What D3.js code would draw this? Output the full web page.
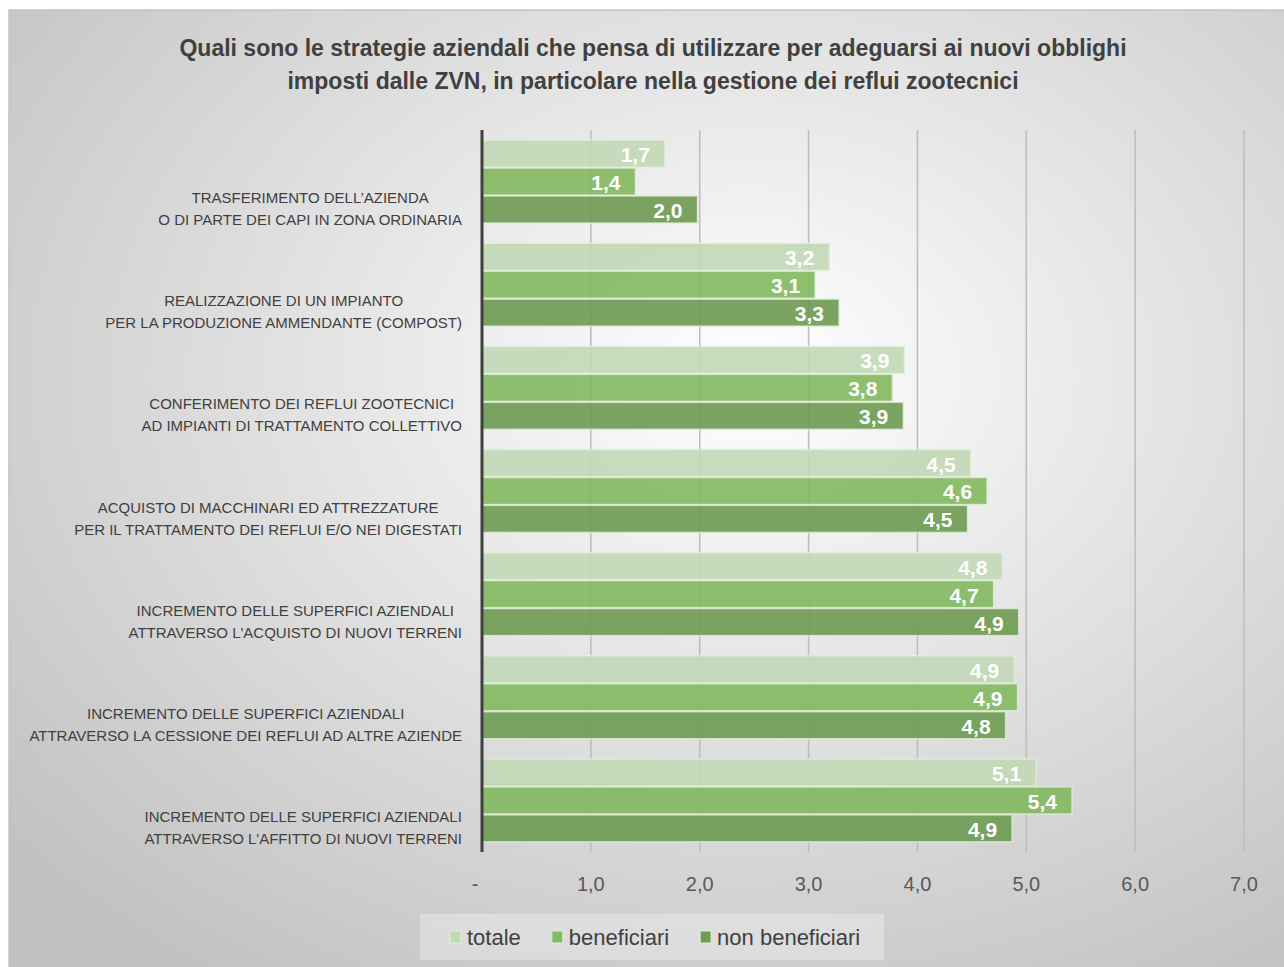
<!DOCTYPE html>
<html lang="it">
<head>
    <meta charset="UTF-8">
    <title>Strategie aziendali ZVN</title>
    <script src="https://d3js.org/d3.v7.min.js"></script>
    <style>
        body { margin: 0; background: #fff; }
        text { font-family: "Liberation Sans Narrow", "Arial Narrow", "Liberation Sans", sans-serif; }
    </style>
</head>
<body>
    <svg id="chart" width="1284" height="967"></svg>

    <script>
        // categories, top to bottom (each label on two lines)
        const categories = [
            ["TRASFERIMENTO DELL\u2019AZIENDA", "O DI PARTE DEI CAPI IN ZONA ORDINARIA"],
            ["REALIZZAZIONE DI UN IMPIANTO", "PER LA PRODUZIONE AMMENDANTE (COMPOST)"],
            ["CONFERIMENTO DEI REFLUI ZOOTECNICI", "AD IMPIANTI DI TRATTAMENTO COLLETTIVO"],
            ["ACQUISTO DI MACCHINARI ED ATTREZZATURE", "PER IL TRATTAMENTO DEI REFLUI E/O NEI DIGESTATI"],
            ["INCREMENTO DELLE SUPERFICI AZIENDALI", "ATTRAVERSO L'ACQUISTO DI NUOVI TERRENI"],
            ["INCREMENTO DELLE SUPERFICI AZIENDALI", "ATTRAVERSO LA CESSIONE DEI REFLUI AD ALTRE AZIENDE"],
            ["INCREMENTO DELLE SUPERFICI AZIENDALI", "ATTRAVERSO L'AFFITTO DI NUOVI TERRENI"]
        ];

        const seriesNames = ["totale", "beneficiari", "non beneficiari"];
        const totale = [1.68, 3.19, 3.88, 4.49, 4.78, 4.89, 5.09];
        const beneficiari = [1.41, 3.06, 3.77, 4.64, 4.70, 4.92, 5.42];
        const nonBeneficiari = [1.98, 3.28, 3.87, 4.46, 4.93, 4.81, 4.87];
        const xTicks = [0, 1, 2, 3, 4, 5, 6, 7];

        const colors = ["#c2d9b7", "#84ba63", "#709c55"];
        const seriesValues = [totale, beneficiari, nonBeneficiari];

        const svg = d3.select("#chart");

        // background with radial gradient
        const defs = svg.append("defs");
        const grad = defs.append("radialGradient")
            .attr("id", "bg")
            .attr("cx", "58%").attr("cy", "38%").attr("r", "75%");
        grad.append("stop").attr("offset", "0%").attr("stop-color", "#ffffff");
        grad.append("stop").attr("offset", "100%").attr("stop-color", "#c2c2c2");

        svg.append("rect")
            .attr("x", 9).attr("y", 10)
            .attr("width", 1276).attr("height", 958)
            .attr("fill", "url(#bg)")
            .attr("stroke", "#c4c4c4")
            .attr("stroke-width", 1.5);

        // title
        const title = svg.append("text")
            .attr("text-anchor", "middle")
            .attr("fill", "#404040")
            .attr("font-weight", "bold")
            .attr("font-size", "23px");
        title.append("tspan").attr("x", 653).attr("y", 56)
            .text("Quali sono le strategie aziendali che pensa di utilizzare per adeguarsi ai nuovi obblighi");
        title.append("tspan").attr("x", 653).attr("y", 89)
            .text("imposti dalle ZVN, in particolare nella gestione dei reflui zootecnici");

        // scales
        const x = d3.scaleLinear().domain([0, 7]).range([482, 1244]);
        const y = d3.scaleBand()
            .domain(d3.range(categories.length))
            .range([130, 852])
            .paddingInner(0.18)
            .paddingOuter(0.09);
        const ySub = d3.scaleBand()
            .domain(d3.range(seriesNames.length))
            .range([0, y.bandwidth()])
            .padding(0.03);

        // gridlines
        svg.append("g")
            .selectAll("line")
            .data(xTicks.filter(d => d > 0))
            .enter()
            .append("line")
            .attr("x1", d => x(d)).attr("x2", d => x(d))
            .attr("y1", 130).attr("y2", 852)
            .attr("stroke", "#bcbcbc")
            .attr("stroke-width", 1.5);

        // bars
        const groups = svg.append("g")
            .selectAll("g")
            .data(categories.map((c, i) => i))
            .enter()
            .append("g")
            .attr("transform", i => "translate(0," + y(i) + ")");

        const bars = groups.selectAll("g.bar")
            .data(i => seriesValues.map((vals, s) => ({ s: s, v: vals[i] })))
            .enter()
            .append("g")
            .attr("class", "bar");

        bars.append("rect")
            .attr("x", x(0))
            .attr("y", d => ySub(d.s))
            .attr("width", d => x(d.v) - x(0))
            .attr("height", ySub.bandwidth())
            .attr("fill", d => colors[d.s])
            .attr("fill-opacity", 0.92)
            .attr("stroke", "#e3eedc")
            .attr("stroke-opacity", 0.8)
            .attr("stroke-width", 1.5);

        bars.append("text")
            .attr("x", d => x(d.v) - 15)
            .attr("y", d => ySub(d.s) + ySub.bandwidth() / 2 + 1)
            .attr("dominant-baseline", "central")
            .attr("text-anchor", "end")
            .attr("fill", "#ffffff")
            .attr("font-weight", "bold")
            .attr("font-size", "21px")
            .text(d => d3.format(".1f")(d.v).replace(".", ","));

        // category labels: lines centred on each other, block right-aligned
        const catLabels = svg.append("g")
            .selectAll("text")
            .data(categories)
            .enter()
            .append("text")
            .attr("fill", "#404040")
            .attr("font-size", "15px")
            .attr("text-anchor", "middle");
        catLabels.each(function (lines, i) {
            const t = d3.select(this);
            const cy = y(i) + y.bandwidth() / 2;
            lines.forEach((ln, k) => {
                t.append("tspan")
                    .attr("y", cy + 16 + k * 22)
                    .attr("dominant-baseline", "central")
                    .text(ln);
            });
            let maxW = 0;
            t.selectAll("tspan").each(function () {
                maxW = Math.max(maxW, this.getComputedTextLength());
            });
            t.selectAll("tspan").attr("x", 462 - maxW / 2);
        });

        // axis line
        svg.append("line")
            .attr("x1", x(0)).attr("x2", x(0))
            .attr("y1", 130).attr("y2", 852)
            .attr("stroke", "#404040")
            .attr("stroke-width", 3);

        // x tick labels
        svg.append("g")
            .selectAll("text")
            .data(xTicks)
            .enter()
            .append("text")
            .attr("x", d => d === 0 ? x(d) - 7 : x(d))
            .attr("y", 884)
            .attr("dominant-baseline", "central")
            .attr("text-anchor", "middle")
            .attr("fill", "#595959")
            .attr("font-size", "20px")
            .text(d => d === 0 ? "-" : d3.format(".1f")(d).replace(".", ","));

        // legend
        const legend = svg.append("g");
        legend.append("rect")
            .attr("x", 420).attr("y", 914)
            .attr("width", 464).attr("height", 46)
            .attr("fill", "#ffffff")
            .attr("fill-opacity", 0.3);
        let lx = 450;
        seriesNames.forEach((name, s) => {
            legend.append("rect")
                .attr("x", lx).attr("y", 931)
                .attr("width", 11).attr("height", 12)
                .attr("fill", colors[s])
                .attr("stroke", "#e3eedc")
                .attr("stroke-width", 1);
            const t = legend.append("text")
                .attr("x", lx + 17).attr("y", 937)
                .attr("dominant-baseline", "central")
                .attr("fill", "#404040")
                .attr("font-size", "22px")
                .text(name);
            lx += 17 + t.node().getComputedTextLength() + 31;
        });
    </script>
</body>
</html>
